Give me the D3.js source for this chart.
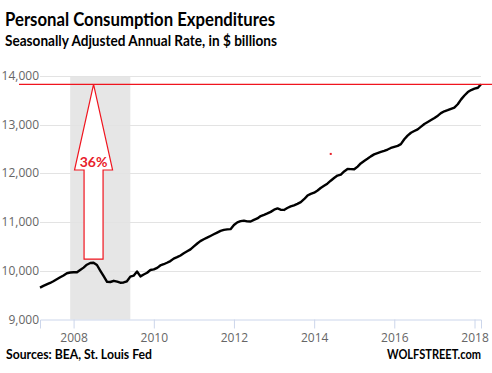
<!DOCTYPE html>
<html>
<head>
<meta charset="utf-8">
<script src="https://cdn.jsdelivr.net/npm/d3@7"></script>
<style>
body { margin: 0; background: #fff; }
</style>
</head>
<body>
<div id="chart"></div>
<script>
// personal consumption expenditures, monthly SAAR, $ billions
var startMonth = "2007-03";
var pce = [
	9655, 9690, 9720, 9750, 9785, 9825, 9867, 9905, 9949, 9965,
	9970, 9969, 10015, 10065, 10125, 10160, 10165, 10119, 10000, 9890,
	9775, 9770, 9795, 9776, 9755, 9760, 9785, 9880, 9900, 9985,
	9885, 9925, 9960, 10016, 10028, 10060, 10110, 10135, 10165, 10200,
	10250, 10280, 10315, 10360, 10400, 10440, 10500, 10560, 10610, 10648,
	10680, 10715, 10750, 10785, 10820, 10840, 10850, 10855, 10940, 10995,
	11020, 11030, 11015, 11012, 11045, 11075, 11125, 11150, 11178, 11210,
	11255, 11280, 11255, 11250, 11290, 11322, 11345, 11375, 11410, 11470,
	11545, 11580, 11605, 11650, 11700, 11745, 11790, 11850, 11905, 11955,
	11975, 12040, 12090, 12088, 12084, 12140, 12205, 12255, 12300, 12350,
	12390, 12415, 12440, 12462, 12490, 12522, 12545, 12565, 12600, 12700,
	12775, 12835, 12870, 12905, 12960, 13015, 13055, 13095, 13138, 13185,
	13238, 13275, 13298, 13325, 13352, 13420, 13520, 13600, 13670, 13712,
	13740, 13758, 13830
];
var recession = ["2007-12", "2009-06"];
var yTicks = [9000, 10000, 11000, 12000, 13000, 14000];
var xTickYears = [2008, 2010, 2012, 2014, 2016, 2018];
// arrow annotation: from pre-recession peak up to latest value
var arrowMonth = "2008-07";
var arrowBase = 10240;
var arrowHead = 12070;
var strayDot = {month: "2014-06", value: 12400};

var parseMonth = d3.timeParse("%Y-%m");
var start = parseMonth(startMonth);
var data = pce.map(function(v, i){
	return {date: d3.timeMonth.offset(start, i), value: v};
});

var W = 492, H = 373;
var margin = {top: 76, right: 11, bottom: 53.5, left: 40},
	width = W - margin.left - margin.right,
	height = H - margin.top - margin.bottom;

var svg = d3.select("#chart").append("svg")
	.attr("width", W)
	.attr("height", H);

var x = d3.scaleTime()
	.domain(d3.extent(data, function(d){return d.date;}))
	.range([0, width]);
var y = d3.scaleLinear()
	.domain([9000, 14000])
	.range([height, 0]);

var g = svg.append("g")
	.attr("transform", "translate(" + margin.left + "," + margin.top + ")");

// recession shading
g.append("rect")
	.attr("x", x(parseMonth(recession[0])))
	.attr("width", x(parseMonth(recession[1])) - x(parseMonth(recession[0])))
	.attr("y", y(14000))
	.attr("height", height - y(14000))
	.attr("fill", "#e6e6e6");

// gridlines
g.selectAll(".grid")
	.data(yTicks.slice(1))
	.enter().append("line")
		.attr("class", "grid")
		.attr("x1", 0)
		.attr("x2", width)
		.attr("y1", function(d){return Math.round(y(d)) + 0.5;})
		.attr("y2", function(d){return Math.round(y(d)) + 0.5;})
		.attr("stroke", "#e3e3e3")
		.attr("stroke-width", 1);

// y labels
g.selectAll(".ylab")
	.data(yTicks)
	.enter().append("text")
		.attr("x", -1)
		.attr("y", function(d){return y(d) + 4;})
		.attr("text-anchor", "end")
		.style("font-family", "'Open Sans', sans-serif")
		.style("font-size", "12px")
		.style("fill", "#666")
		.text(d3.format(","));

// x axis
var xAxis = d3.axisBottom(x)
	.tickValues(xTickYears.map(function(yr){return new Date(yr, 0, 1);}))
	.tickFormat(d3.timeFormat("%Y"))
	.tickSize(9)
	.tickPadding(5);
var xg = g.append("g")
	.attr("transform", "translate(0," + height + ")")
	.call(xAxis);
xg.select(".domain").attr("stroke", "#ccd6eb");
xg.selectAll(".tick line").attr("stroke", "#ccd6eb");
xg.selectAll(".tick text")
	.style("font-family", "'Open Sans', sans-serif")
	.style("font-size", "12px")
	.style("fill", "#666");

// red line at latest value
var last = data[data.length - 1].value;
svg.append("line")
	.attr("x1", 19)
	.attr("x2", W)
	.attr("y1", margin.top + y(last))
	.attr("y2", margin.top + y(last))
	.attr("stroke", "#f0141e")
	.attr("stroke-width", 1.3);

// arrow
var ax = x(parseMonth(arrowMonth)),
	headHalf = 19, shaftHalf = 9.5;
var arrowPts = [
	[ax, y(last)],
	[ax + headHalf, y(arrowHead)],
	[ax + shaftHalf, y(arrowHead)],
	[ax + shaftHalf, y(arrowBase)],
	[ax - shaftHalf, y(arrowBase)],
	[ax - shaftHalf, y(arrowHead)],
	[ax - headHalf, y(arrowHead)]
];
g.append("polygon")
	.attr("points", arrowPts.map(function(p){return p.join(",");}).join(" "))
	.attr("fill", "#fff")
	.attr("stroke", "#f0141e")
	.attr("stroke-width", 1.2);

var peak = d3.max(data, function(d){return d.date.getFullYear() == 2008 ? d.value : 0;});
g.append("text")
	.attr("x", ax)
	.attr("y", y(arrowHead) - 3)
	.attr("text-anchor", "middle")
	.style("font-family", "Lato, sans-serif")
	.style("font-weight", "bold")
	.style("font-size", "14px")
	.style("fill", "#e8202a")
	.text(d3.format(".0%")(last / peak - 1));

// stray dot
g.append("rect")
	.attr("x", x(parseMonth(strayDot.month)) - 1)
	.attr("y", y(strayDot.value) - 1)
	.attr("width", 2)
	.attr("height", 2)
	.attr("fill", "#e8202a");

// the line
var line = d3.line()
	.x(function(d){return x(d.date);})
	.y(function(d){return y(d.value);});
g.append("path")
	.datum(data)
	.attr("d", line)
	.attr("fill", "none")
	.attr("stroke", "#000")
	.attr("stroke-width", 2.4)
	.attr("stroke-linejoin", "round");

// titles
svg.append("text")
	.attr("x", 5)
	.attr("y", 26)
	.attr("textLength", 270)
	.attr("lengthAdjust", "spacingAndGlyphs")
	.style("font-family", "Lato, sans-serif")
	.style("font-weight", "bold")
	.style("font-size", "19px")
	.text("Personal Consumption Expenditures");
svg.append("text")
	.attr("x", 5)
	.attr("y", 46)
	.attr("textLength", 272)
	.attr("lengthAdjust", "spacingAndGlyphs")
	.style("font-family", "Lato, sans-serif")
	.style("font-weight", "bold")
	.style("font-size", "16px")
	.text("Seasonally Adjusted Annual Rate, in $ billions");

// footer
svg.append("text")
	.attr("x", 6)
	.attr("y", 359)
	.attr("textLength", 146)
	.attr("lengthAdjust", "spacingAndGlyphs")
	.style("font-family", "Lato, sans-serif")
	.style("font-weight", "bold")
	.style("font-size", "13px")
	.text("Sources: BEA, St. Louis Fed");
svg.append("text")
	.attr("x", 387)
	.attr("y", 359)
	.attr("textLength", 94)
	.attr("lengthAdjust", "spacingAndGlyphs")
	.style("font-family", "Lato, sans-serif")
	.style("font-weight", "bold")
	.style("font-size", "12.5px")
	.text("WOLFSTREET.com");
</script>
</body>
</html>
